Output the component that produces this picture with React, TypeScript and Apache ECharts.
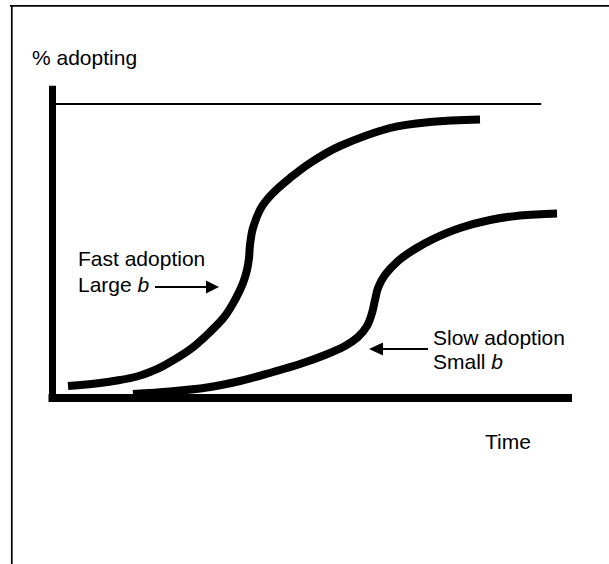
import React, { useEffect, useRef } from "react";
import * as echarts from "echarts";

// Time axis (arbitrary units 0-100) and share adopting (%)
const fastTime = [3.01, 9.21, 13.09, 16.39, 18.91, 21.82, 26.67, 30.55, 33.46, 35.6, 36.96, 37.73, 38.12, 38.31, 38.89, 40.45, 42.77, 46.07, 49.95, 55.77, 65.47, 73.23, 82.93];
const fastShare = [4.08, 5.1, 6.12, 7.31, 8.84, 11.22, 16.5, 22.45, 27.89, 34.01, 39.12, 43.54, 47.62, 52.04, 57.82, 64.63, 69.73, 74.83, 79.93, 85.71, 91.84, 93.88, 94.73];

const slowTime = [15.61, 22.79, 29.97, 36.38, 42.78, 48.01, 52.86, 56.74, 59.26, 61.01, 61.98, 62.56, 63.15, 64.5, 67.03, 70.32, 73.81, 79.05, 84.87, 90.69, 97.87];
const slowShare = [1.36, 2.21, 3.57, 5.78, 8.84, 11.56, 14.63, 17.69, 20.75, 24.49, 28.91, 33.33, 37.41, 41.84, 46.6, 50.68, 54.08, 57.82, 60.54, 62.07, 62.76];

const saturationTime = [0, 94.8];
const saturationShare = [100, 100];

const yLabel = "% adopting";
const xLabel = "Time";
const fastLabel = ["Fast adoption", "Large {i|b}"];
const slowLabel = ["Slow adoption", "Small {i|b}"];

const FONT = "'Liberation Sans', Arial, Helvetica, sans-serif";

export default function App() {
  const ref = useRef<HTMLDivElement>(null);

  useEffect(() => {
    if (!ref.current) return;
    const chart = echarts.init(ref.current, null, { renderer: "svg" });
    const textStyle = (text: string, x: number, y: number, align = "left") => ({
      type: "text",
      x,
      y,
      style: {
        text,
        fill: "#000",
        font: `21px ${FONT}`,
        fontSize: 21,
        fontFamily: FONT,
        align,
        verticalAlign: "middle",
        rich: {
          i: { fontStyle: "italic", fontSize: 21, fontFamily: FONT, fill: "#000" },
        },
      },
    });
    chart.setOption({
      animation: false,
      backgroundColor: "#fff",
      grid: { left: 52.5, top: 89.3, right: 41, bottom: 166 },
      xAxis: {
        type: "value",
        min: 0,
        max: 100,
        axisLine: { show: true, onZero: false, lineStyle: { color: "#000", width: 8, cap: "square" } },
        axisTick: { show: false },
        axisLabel: { show: false },
        splitLine: { show: false },
      },
      yAxis: {
        type: "value",
        min: 0,
        max: 105,
        axisLine: { show: true, lineStyle: { color: "#000", width: 7, cap: "square" } },
        axisTick: { show: false },
        axisLabel: { show: false },
        splitLine: { show: false },
      },
      series: [
        {
          type: "line",
          name: "Saturation",
          data: saturationTime.map((t, i) => [t, saturationShare[i]]),
          symbol: "none",
          lineStyle: { color: "#000", width: 2 },
          silent: true,
        },
        {
          type: "line",
          name: "Fast adoption",
          data: fastTime.map((t, i) => [t, fastShare[i]]),
          symbol: "none",
          smooth: 0.35,
          lineStyle: { color: "#000", width: 8, cap: "butt", join: "round" },
          silent: true,
        },
        {
          type: "line",
          name: "Slow adoption",
          data: slowTime.map((t, i) => [t, slowShare[i]]),
          symbol: "none",
          smooth: 0.35,
          lineStyle: { color: "#000", width: 8, cap: "butt", join: "round" },
          silent: true,
        },
      ],
      graphic: [
        // frame
        { type: "line", shape: { x1: 10, y1: 5.8, x2: 609, y2: 5.8 }, style: { stroke: "#000", lineWidth: 1.7 } },
        { type: "line", shape: { x1: 11.8, y1: 5, x2: 11.8, y2: 564 }, style: { stroke: "#000", lineWidth: 1.7 } },
        textStyle(yLabel, 32, 57.7),
        textStyle(xLabel, 485, 441),
        textStyle(fastLabel[0], 78, 258.5),
        textStyle(fastLabel[1], 78, 284),
        textStyle(slowLabel[0], 433, 337),
        textStyle(slowLabel[1], 433, 361),
        // arrows
        { type: "line", shape: { x1: 155, y1: 287, x2: 208, y2: 287 }, style: { stroke: "#000", lineWidth: 2 } },
        { type: "polygon", shape: { points: [[206, 280.5], [219, 287], [206, 293.5]] }, style: { fill: "#000" } },
        { type: "line", shape: { x1: 381, y1: 349, x2: 428, y2: 349 }, style: { stroke: "#000", lineWidth: 2 } },
        { type: "polygon", shape: { points: [[383, 342.5], [369, 349], [383, 355.5]] }, style: { fill: "#000" } },
      ],
    });
    return () => chart.dispose();
  }, []);

  return (
    <div
      ref={ref}
      style={{ position: "fixed", left: 0, top: 0, width: 609, height: 564, background: "#fff" }}
    />
  );
}
